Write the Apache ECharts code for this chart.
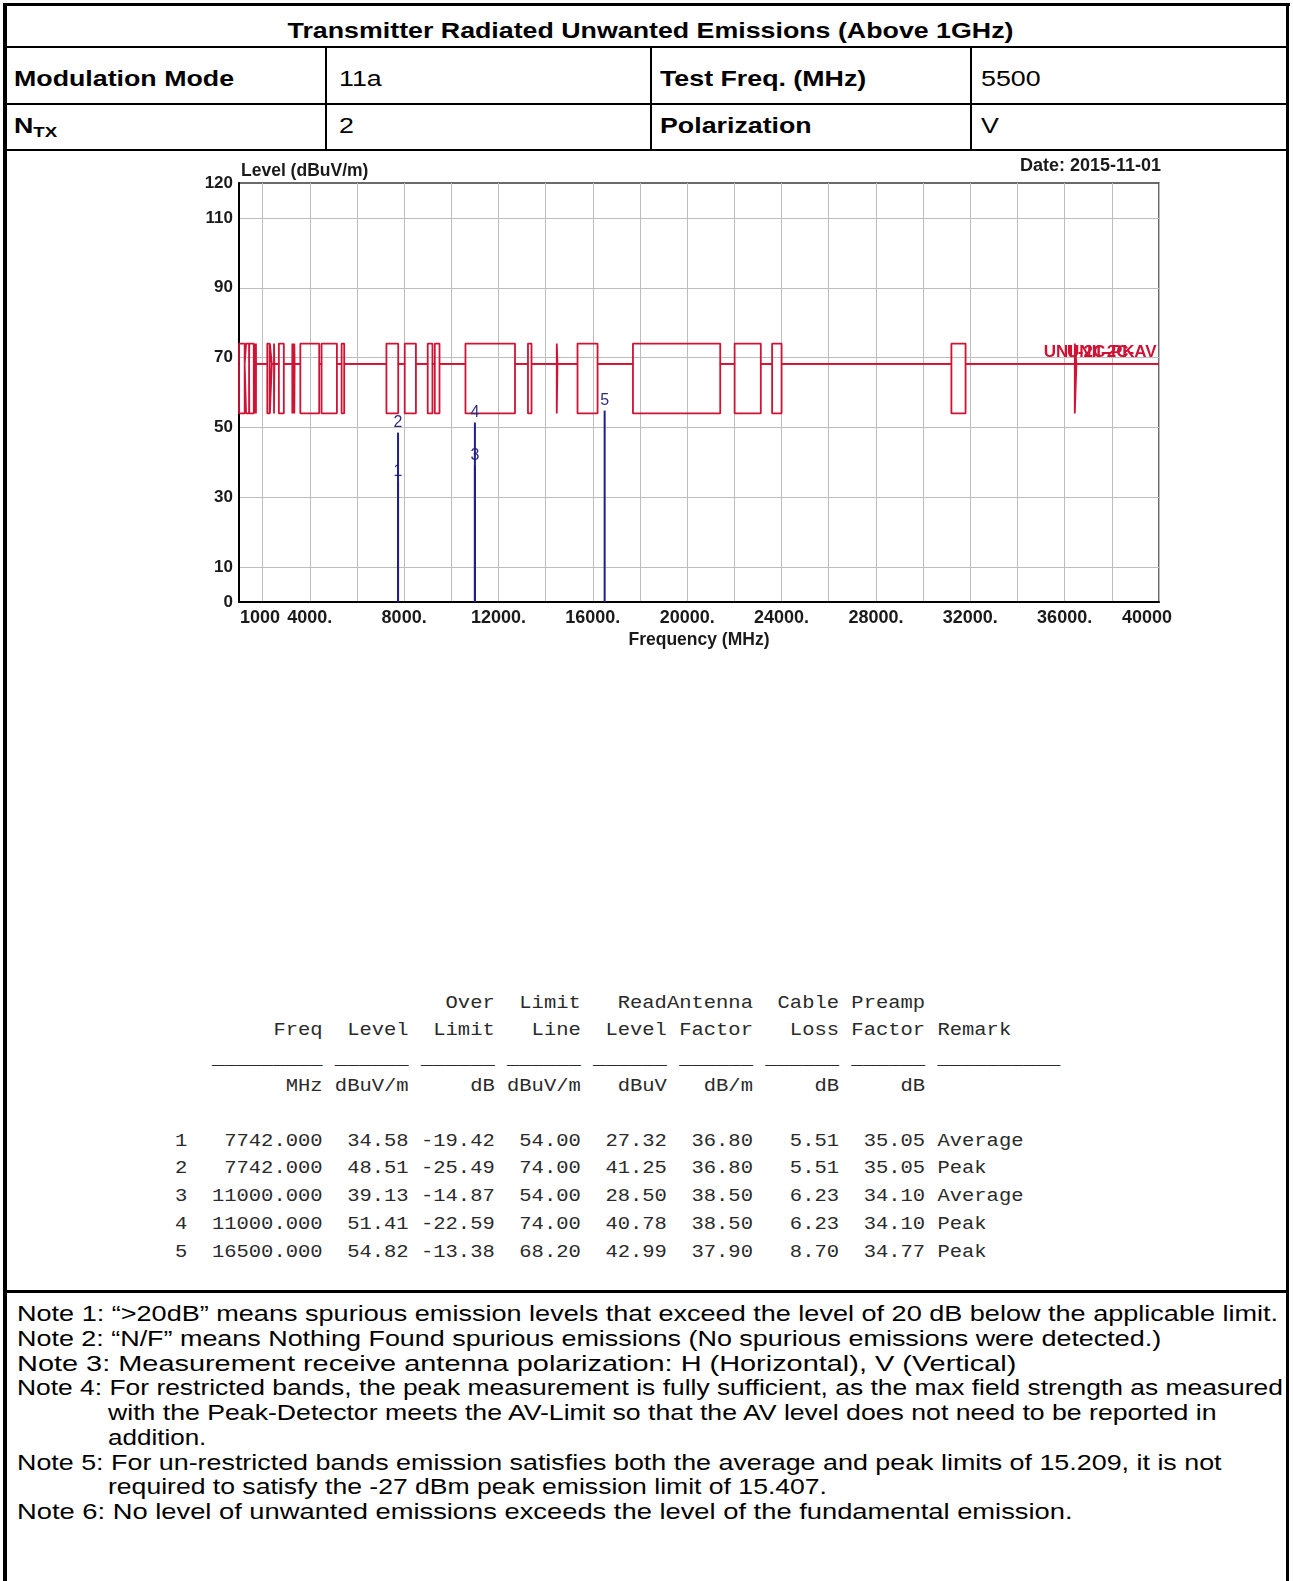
<!DOCTYPE html>
<html><head><meta charset="utf-8">
<script src="https://cdn.jsdelivr.net/npm/echarts@6/dist/echarts.min.js"></script>
<style>
html,body{margin:0;padding:0;background:#fff;}
#page{position:relative;width:1293px;height:1581px;overflow:hidden;font-family:'Liberation Sans',Arial,sans-serif;color:#000;}
.b{position:absolute;background:#000;}
.t{position:absolute;white-space:nowrap;font-size:21.5px;line-height:25px;}
.t>span{display:inline-block;transform:scaleX(1.245);transform-origin:0 50%;}
.c>span{transform-origin:50% 50%;}
.bold{font-weight:bold;}
.m{position:absolute;left:175px;white-space:pre;font-family:'Liberation Mono',monospace;font-size:19px;line-height:22px;color:#2a2a2a;transform:scaleX(1.0785);transform-origin:0 50%;}
#chart{position:absolute;left:0;top:0;width:1293px;height:1581px;}
sub{font-size:15px;vertical-align:-4px;line-height:0;}
</style></head>
<body>
<div id="page">
  <!-- table frame -->
  <div class="b" style="left:3px;top:3px;width:1287px;height:3px"></div>
  <div class="b" style="left:3px;top:3px;width:4px;height:1578px"></div>
  <div class="b" style="left:1286px;top:3px;width:3px;height:1578px"></div>
  <div class="b" style="left:3px;top:46px;width:1286px;height:2px"></div>
  <div class="b" style="left:3px;top:103px;width:1286px;height:2px"></div>
  <div class="b" style="left:3px;top:149px;width:1286px;height:2px"></div>
  <div class="b" style="left:325px;top:47px;width:2px;height:103px"></div>
  <div class="b" style="left:650px;top:47px;width:2px;height:103px"></div>
  <div class="b" style="left:970px;top:47px;width:2px;height:103px"></div>
  <div class="b" style="left:3px;top:1290px;width:1286px;height:3px"></div>

  <div class="t bold c" style="left:0;width:1301px;top:19px;text-align:center"><span>Transmitter Radiated Unwanted Emissions (Above 1GHz)</span></div>
  <div class="t bold" style="left:14px;top:67px"><span>Modulation Mode</span></div>
  <div class="t" style="left:339px;top:67px"><span>11a</span></div>
  <div class="t bold" style="left:660px;top:67px"><span>Test Freq. (MHz)</span></div>
  <div class="t" style="left:981px;top:67px"><span>5500</span></div>
  <div class="t bold" style="left:14px;top:114px"><span>N<sub>TX</sub></span></div>
  <div class="t" style="left:339px;top:114px"><span>2</span></div>
  <div class="t bold" style="left:660px;top:114px"><span>Polarization</span></div>
  <div class="t" style="left:981px;top:114px"><span>V</span></div>

  <div id="tbl"></div>
  <div id="notes"></div>

  <div id="chart"></div>
</div>
<script>
// ---------------- data ----------------
const xMin = 1000, xMax = 40000;
const yMin = 0, yMax = 120;
const xLabelValues = [1000, 4000, 8000, 12000, 16000, 20000, 24000, 28000, 32000, 36000, 40000];
const xLabelTexts  = ['1000', '4000.', '8000.', '12000.', '16000.', '20000.', '24000.', '28000.', '32000.', '36000.', '40000'];
const yLabelValues = [0, 10, 30, 50, 70, 90, 110, 120];

// FCC 15.205 restricted bands (MHz) drawn as limit boxes
const restrictedBands = [
  [1000, 1240], [1300, 1427], [1435, 1626.5], [1645.5, 1646.5], [1660, 1710], [1718.8, 1722.2],
  [2200, 2300], [2310, 2390], [2483.5, 2500], [2690, 2900], [3260, 3267], [3332, 3339],
  [3345.8, 3358], [3600, 4400], [4500, 5150], [5350, 5460], [7250, 7750], [8025, 8500],
  [9000, 9200], [9300, 9500], [10600, 12700], [13250, 13400], [14470, 14500], [15350, 16200],
  [17700, 21400], [22010, 23120], [23600, 24000], [31200, 31800], [36430, 36500]
];
const unrestrictedLimit = 68.2;
const restrictedPeakLimit = 74;
const restrictedAvgLimit = 54;
const limitNames = ['UNII-2C-PK', 'UNII-2C-AV'];

// marker table
const markerNo      = [1, 2, 3, 4, 5];
const markerFreq    = [7742, 7742, 11000, 11000, 16500];
const markerLevel   = [34.58, 48.51, 39.13, 51.41, 54.82];
const overLimit     = [-19.42, -25.49, -14.87, -22.59, -13.38];
const limitLine     = [54.00, 74.00, 54.00, 74.00, 68.20];
const readLevel     = [27.32, 41.25, 28.50, 40.78, 42.99];
const antennaFactor = [36.80, 36.80, 38.50, 38.50, 37.90];
const cableLoss     = [5.51, 5.51, 6.23, 6.23, 8.70];
const preampFactor  = [35.05, 35.05, 34.10, 34.10, 34.77];
const remark        = ['Average', 'Peak', 'Average', 'Peak', 'Peak'];

// notes (text, left edge, right edge of the line in the page)
const noteLines = [
  ['Note 1: “>20dB” means spurious emission levels that exceed the level of 20 dB below the applicable limit.', 17, 1278],
  ['Note 2: “N/F” means Nothing Found spurious emissions (No spurious emissions were detected.)', 17, 1161],
  ['Note 3: Measurement receive antenna polarization: H (Horizontal), V (Vertical)', 17, 1016],
  ['Note 4: For restricted bands, the peak measurement is fully sufficient, as the max field strength as measured', 17, 1283],
  ['with the Peak-Detector meets the AV-Limit so that the AV level does not need to be reported in', 108, 1216],
  ['addition.', 108, 206],
  ['Note 5: For un-restricted bands emission satisfies both the average and peak limits of 15.209, it is not', 17, 1221],
  ['required to satisfy the -27 dBm peak emission limit of 15.407.', 108, 827],
  ['Note 6: No level of unwanted emissions exceeds the level of the fundamental emission.', 17, 1073]
];
const noteTop = 1302, noteStep = 24.75;

// ---------------- notes ----------------
(function () {
  const host = document.getElementById('notes');
  noteLines.forEach((n, i) => {
    const d = document.createElement('div');
    d.className = 't';
    d.style.left = n[1] + 'px';
    d.style.top = Math.round(noteTop + i * noteStep) + 'px';
    const s = document.createElement('span');
    s.textContent = n[0];
    d.appendChild(s);
    host.appendChild(d);
    const w = s.offsetWidth;
    if (w > 0) s.style.transform = 'scaleX(' + ((n[2] - n[1]) / w).toFixed(4) + ')';
  });
})();

// ---------------- text table ----------------
(function () {
  const p = (s, n) => String(s).padStart(n, ' ');
  const lines = [];
  lines.push({ y: 1003, s: p('', 12) + p('', 7) + p('Over', 7) + p('Limit', 7) + p('ReadAntenna', 14) + p('Cable', 7) + p('Preamp', 7) });
  lines.push({ y: 1030, s: p('', 3) + p('Freq', 9) + p('Level', 7) + p('Limit', 7) + p('Line', 7) + p('Level', 7) + p('Factor', 7) + p('Loss', 7) + p('Factor', 7) + ' Remark' });
  let u = p('', 3) + '_'.repeat(9);
  for (let i = 0; i < 7; i++) u += ' ' + '_'.repeat(6);
  u += ' ' + '_'.repeat(10);
  lines.push({ y: 1059, s: u });
  lines.push({ y: 1086, s: p('', 3) + p('MHz', 9) + p('dBuV/m', 7) + p('dB', 7) + p('dBuV/m', 7) + p('dBuV', 7) + p('dB/m', 7) + p('dB', 7) + p('dB', 7) });
  const rowY = [1141, 1168, 1196, 1224, 1252];
  for (let i = 0; i < markerNo.length; i++) {
    const s = p(markerNo[i], 1) + '  ' + p(markerFreq[i].toFixed(3), 9) + p(markerLevel[i].toFixed(2), 7) +
      p(overLimit[i].toFixed(2), 7) + p(limitLine[i].toFixed(2), 7) + p(readLevel[i].toFixed(2), 7) +
      p(antennaFactor[i].toFixed(2), 7) + p(cableLoss[i].toFixed(2), 7) + p(preampFactor[i].toFixed(2), 7) + ' ' + remark[i];
    lines.push({ y: rowY[i], s: s });
  }
  const host = document.getElementById('tbl');
  lines.forEach(l => {
    const d = document.createElement('div');
    d.className = 'm';
    d.style.top = (l.y - 11) + 'px';
    d.textContent = l.s;
    host.appendChild(d);
  });
})();

// ---------------- chart ----------------
const FONT = "'Liberation Sans', Arial, sans-serif";
const LIMIT_COLOR = '#d01234';
const MARK_COLOR = '#1e1e8c';

function limitPath(level) {
  const pts = [[xMin, unrestrictedLimit]];
  restrictedBands.forEach(([a, b]) => {
    pts.push([a, unrestrictedLimit], [a, level], [b, level], [b, unrestrictedLimit]);
  });
  pts.push([xMax, unrestrictedLimit]);
  return pts;
}

const xLabelMap = {};
xLabelValues.forEach((v, i) => { xLabelMap[v] = xLabelTexts[i]; });

const chart = echarts.init(document.getElementById('chart'), null, { renderer: 'canvas', width: 1293, height: 1581 });
const xLabelStyle = { fontFamily: FONT, fontSize: 18, fontWeight: 'bold', color: '#1a1a1a' };
const yLabelStyle = { fontFamily: FONT, fontSize: 17, fontWeight: 'bold', color: '#1a1a1a' };

chart.setOption({
  animation: false,
  title: {
    text: 'Date: 2015-11-01', right: 132, top: 157, padding: 0,
    textStyle: { fontFamily: FONT, fontSize: 18, fontWeight: 'bold', color: '#1a1a1a' }
  },
  grid: { left: 239, top: 183, width: 920, height: 419, show: true, borderColor: '#3a3a3a', borderWidth: 1.5, backgroundColor: 'rgba(0,0,0,0)' },
  xAxis: {
    type: 'value', min: xMin, max: xMax, interval: 1000,
    name: 'Frequency (MHz)', nameLocation: 'middle', nameGap: 29,
    nameTextStyle: { fontFamily: FONT, fontSize: 17.5, fontWeight: 'bold', color: '#1a1a1a' },
    axisLine: { show: true, onZero: false, lineStyle: { color: '#000', width: 2 } },
    axisTick: { show: false },
    axisLabel: {
      margin: 7, ...xLabelStyle, showMinLabel: true, showMaxLabel: true,
      formatter: v => {
        const t = xLabelMap[v];
        if (t === undefined) return '';
        if (v === xMin) return '{mn|' + t + '}';
        if (v === xMax) return '{mx|' + t + '}';
        return t;
      },
      rich: {
        mn: { ...xLabelStyle, padding: [0, 0, 0, 42] },
        mx: { ...xLabelStyle, padding: [0, 24, 0, 0] }
      }
    },
    splitLine: { show: true, lineStyle: { color: ['rgba(0,0,0,0)', '#bdbdbd'], width: 1 } }
  },
  yAxis: {
    type: 'value', min: yMin, max: yMax, interval: 10,
    name: 'Level (dBuV/m)', nameLocation: 'end', nameGap: 3,
    nameTextStyle: { fontFamily: FONT, fontSize: 17.5, fontWeight: 'bold', color: '#1a1a1a', align: 'left', verticalAlign: 'bottom', padding: [0, 0, 0, 2] },
    axisLine: { show: true, lineStyle: { color: '#000', width: 2 } },
    axisTick: { show: false },
    axisLabel: {
      margin: 6, ...yLabelStyle, showMinLabel: true, showMaxLabel: true,
      formatter: v => (yLabelValues.indexOf(v) >= 0 ? String(v) : '')
    },
    splitLine: { show: true, lineStyle: { color: ['rgba(0,0,0,0)', '#bdbdbd'], width: 1 } }
  },
  series: [
    {
      name: limitNames[0], type: 'line', data: limitPath(restrictedPeakLimit),
      symbol: 'none', z: 3, lineStyle: { color: LIMIT_COLOR, width: 1.8 }, silent: true,
      markPoint: {
        symbol: 'circle', symbolSize: 1, itemStyle: { color: 'rgba(0,0,0,0)' }, silent: true,
        data: [{ coord: [xMax, unrestrictedLimit] }],
        label: { show: true, position: 'left', distance: 0, offset: [-24, -12], formatter: limitNames[0],
          fontFamily: FONT, fontSize: 17, fontWeight: 'bold', color: LIMIT_COLOR }
      }
    },
    {
      name: limitNames[1], type: 'line', data: limitPath(restrictedAvgLimit),
      symbol: 'none', z: 3, lineStyle: { color: LIMIT_COLOR, width: 1.8 }, silent: true,
      markPoint: {
        symbol: 'circle', symbolSize: 1, itemStyle: { color: 'rgba(0,0,0,0)' }, silent: true,
        data: [{ coord: [xMax, unrestrictedLimit] }],
        label: { show: true, position: 'left', distance: 0, offset: [-2, -12], formatter: limitNames[1],
          fontFamily: FONT, fontSize: 17, fontWeight: 'bold', color: LIMIT_COLOR }
      }
    },
    {
      name: 'markers', type: 'custom', z: 5, silent: true,
      data: markerNo.map((n, i) => [markerFreq[i], markerLevel[i], n]),
      renderItem: (params, api) => {
        const f = api.value(0), lv = api.value(1), no = api.value(2);
        const p0 = api.coord([f, yMin]);
        const p1 = api.coord([f, lv]);
        return {
          type: 'group',
          children: [
            { type: 'line', shape: { x1: p0[0], y1: p0[1], x2: p1[0], y2: p1[1] }, style: { stroke: MARK_COLOR, lineWidth: 2 } },
            { type: 'text', style: { text: String(no), x: p1[0], y: p1[1] - 2, align: 'center', verticalAlign: 'bottom',
              fill: '#2e2e80', font: '16px ' + FONT } }
          ]
        };
      }
    }
  ]
});
</script>
</body></html>
